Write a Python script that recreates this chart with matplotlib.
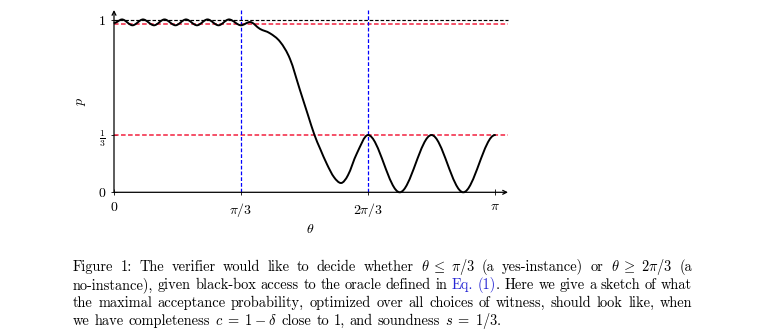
import numpy as np
import matplotlib
matplotlib.use('Agg')
import matplotlib.pyplot as plt
from matplotlib.path import Path
from matplotlib.patches import PathPatch

plt.rcParams['mathtext.fontset'] = 'cm'
plt.rcParams['font.family'] = 'cmr10'
plt.rcParams['axes.formatter.use_mathtext'] = True

# sketched acceptance probability, theta in units of pi
theta_over_pi = [0.001, 0.021, 0.0486, 0.0761, 0.105, 0.1325, 0.1614, 0.189,
                 0.2178, 0.2454, 0.2743, 0.3018, 0.3333, 0.357, 0.383, 0.409,
                 0.436, 0.462, 0.488, 0.509, 0.5262, 0.5407, 0.559, 0.5774,
                 0.5958, 0.614, 0.637, 0.6667, 0.75, 0.8333, 0.9167, 1.0]
p_values = [0.985, 1.005, 0.971, 1.005, 0.971, 1.005, 0.971, 1.005,
            0.971, 1.005, 0.971, 1.005, 0.971, 0.99, 0.95, 0.925,
            0.875, 0.775, 0.595, 0.45, 0.333, 0.255, 0.163, 0.088,
            0.054, 0.099, 0.224, 0.333, 0.0, 0.333, 0.0, 0.333]

completeness = 0.977
soundness = 1 / 3
yes_bound = np.pi / 3
no_bound = 2 * np.pi / 3

x_ticks = [0, np.pi / 3, 2 * np.pi / 3, np.pi]
x_tick_labels = ['$0$', r'$\pi/3$', r'$2\pi/3$', r'$\pi$']
y_ticks = [0, 1 / 3, 1]
y_tick_labels = ['$0$', r'$\frac{1}{3}$', '$1$']

BLUE_LINK = '#2626d4'
caption_lines = [
    ['Figure', '1:', 'The', 'verifier', 'would', 'like', 'to', 'decide', 'whether',
     r'$\theta\;\leq\;\pi/3$', '(a', 'yes-instance)', 'or', r'$\theta\;\geq\;2\pi/3$', '(a'],
    ['no-instance),', 'given', 'black-box', 'access', 'to', 'the', 'oracle', 'defined', 'in',
     [('Eq.', BLUE_LINK)], [('(1)', BLUE_LINK), ('.', 'black')], 'Here', 'we', 'give', 'a',
     'sketch', 'of', 'what'],
    ['the', 'maximal', 'acceptance', 'probability,', 'optimized', 'over', 'all', 'choices',
     'of', 'witness,', 'should', 'look', 'like,', 'when'],
    ['we', 'have', 'completeness', r'$c\;=\;1\:-\:\delta$', 'close', 'to', '1,', 'and',
     'soundness', r'$s\;=\;1/3$.'],
]

W, H = 764, 336
fig = plt.figure(figsize=(W / 100, H / 100), dpi=100)

# axes box in pixels: left 100, right 520, top 5, bottom 200
ax = fig.add_axes([100 / W, (H - 200) / H, 420 / W, 195 / H])
xscale = 381 / np.pi
ax.set_xlim(-14 / xscale, 406 / xscale)
ax.set_ylim((192.3 - 200) / 172, (192.3 - 5) / 172)

x_end = (508 - 114) / xscale
y_end = (192.3 - 10) / 172


def smooth_path(xs, ys):
    # cubic pieces through the knots, flat at the turning points
    xs = np.asarray(xs, float)
    ys = np.asarray(ys, float)
    n = len(xs)
    m = np.zeros(n)
    for i in range(1, n - 1):
        if (ys[i] - ys[i - 1]) * (ys[i + 1] - ys[i]) > 0:
            m[i] = (ys[i + 1] - ys[i - 1]) / (xs[i + 1] - xs[i - 1])
    verts = [(xs[0], ys[0])]
    codes = [Path.MOVETO]
    for i in range(n - 1):
        h = (xs[i + 1] - xs[i]) / 3
        verts += [(xs[i] + h, ys[i] + m[i] * h),
                  (xs[i + 1] - h, ys[i + 1] - m[i + 1] * h),
                  (xs[i + 1], ys[i + 1])]
        codes += [Path.CURVE4] * 3
    return Path(verts, codes)


dash = (0, (3.0, 1.6))
RED = '#f2203f'
ax.plot([0, x_end], [1, 1], color='black', lw=0.85, linestyle=dash)
ax.plot([0, x_end], [completeness, completeness], color=RED, lw=1.1, linestyle=dash)
ax.plot([0, x_end], [soundness, soundness], color=RED, lw=1.1, linestyle=dash)
ax.plot([yes_bound, yes_bound], [0, y_end], color='blue', lw=0.9, linestyle=dash)
ax.plot([no_bound, no_bound], [0, y_end], color='blue', lw=0.9, linestyle=dash)

theta = np.array(theta_over_pi) * np.pi
ax.add_patch(PathPatch(smooth_path(theta, p_values), fill=False,
                       edgecolor='black', lw=1.4, capstyle='round', zorder=3))

# axes with arrow tips
arrow = dict(arrowstyle='->', lw=0.9, color='black', shrinkA=0, shrinkB=0,
             mutation_scale=7)
ax.annotate('', xy=(x_end, 0), xytext=(0, 0), arrowprops=arrow)
ax.annotate('', xy=(0, y_end), xytext=(0, 0), arrowprops=arrow)

for s in ax.spines.values():
    s.set_visible(False)
ax.spines['bottom'].set_position(('data', 0))
ax.spines['left'].set_position(('data', 0))
ax.set_xticks(x_ticks, x_tick_labels)
ax.set_yticks(y_ticks, y_tick_labels)
ax.tick_params(direction='inout', length=4.3, width=0.6, labelsize=10)
ax.tick_params(axis='x', pad=4.0)
ax.tick_params(axis='y', pad=3.4)

ax.set_xlabel(r'$\theta$', fontsize=10, va='center')
ax.xaxis.set_label_coords(0.5, -0.151)
ax.set_ylabel('$p$', fontsize=10, va='center', ha='center')
ax.yaxis.set_label_coords(-0.043, 0.508)

# caption, justified between x=73 and x=692
renderer = fig.canvas.get_renderer()
cap_size = 10.4
left, right = 73, 692
baselines = [270.7, 288.9, 307.1, 325.3]
space = 0.333 * cap_size * 100 / 72

for li, words in enumerate(caption_lines):
    placed = []
    for w in words:
        runs = [(w, 'black')] if isinstance(w, str) else w
        arts = []
        width = 0
        for txt, col in runs:
            t = fig.text(0, 1 - baselines[li] / H, txt, fontsize=cap_size, color=col,
                         va='baseline', ha='left')
            tw = t.get_window_extent(renderer).width
            arts.append((t, width))
            width += tw
        placed.append((arts, width))
    total = sum(wd for _, wd in placed)
    if li < len(caption_lines) - 1:
        gap = (right - left - total) / (len(placed) - 1)
    else:
        gap = space
    x = left
    for arts, wd in placed:
        for t, off in arts:
            t.set_x((x + off) / W)
        x += wd + gap

fig.savefig('out.png', dpi=100)
